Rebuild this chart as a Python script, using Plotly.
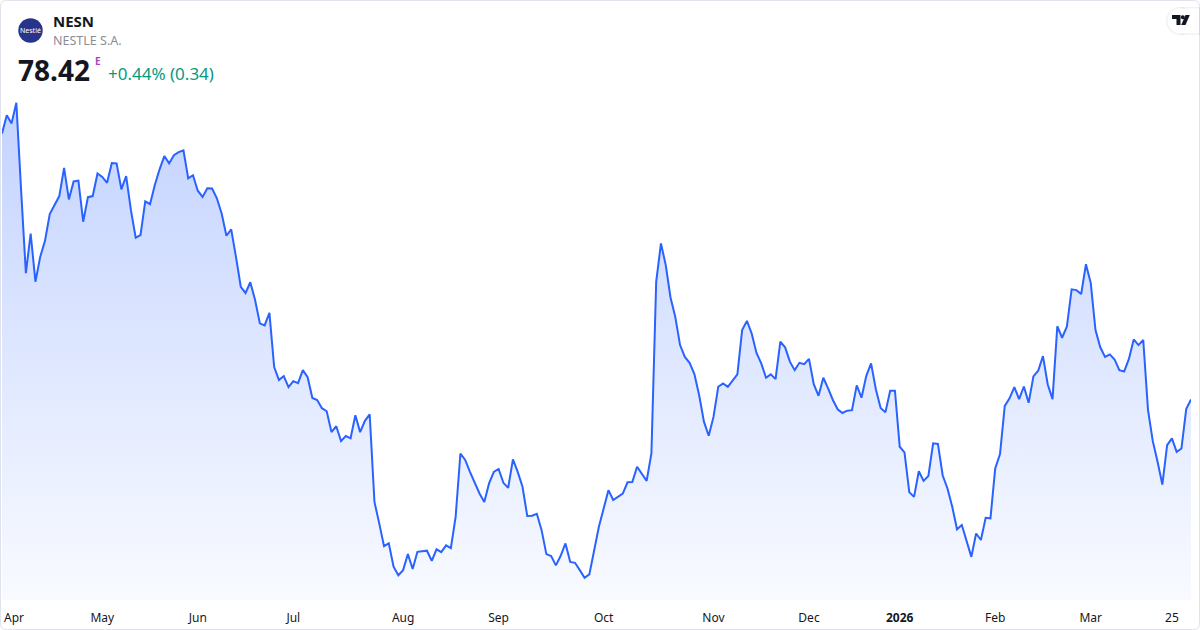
import plotly.graph_objects as go
import pandas as pd

# ---------------- data ----------------
six_holidays = ["2025-04-18", "2025-04-21", "2025-05-01", "2025-05-29", "2025-06-09",
                "2025-08-01", "2025-12-24", "2025-12-25", "2025-12-26", "2025-12-31",
                "2026-01-01", "2026-01-02"]
trade_dates = pd.bdate_range("2025-03-31", "2026-03-31", freq="C", holidays=six_holidays)

close = [
    87.86, 88.51, 88.22, 88.95, 85.85, 82.90, 84.31, 82.60, 83.48, 84.05,
    85.00, 85.32, 85.64, 86.64, 85.52, 86.16, 86.19, 84.73, 85.60, 85.64,
    86.44, 86.32, 86.11, 86.81, 86.80, 85.88, 86.35, 85.14, 84.16, 84.25,
    85.45, 85.35, 86.03, 86.59, 87.06, 86.80, 87.09, 87.20, 87.26, 86.27,
    86.38, 85.83, 85.61, 85.92, 85.91, 85.56, 85.02, 84.23, 84.46, 83.48,
    82.42, 82.20, 82.58, 81.95, 81.12, 81.05, 81.49, 79.57, 79.11, 79.25,
    78.86, 79.07, 79.00, 79.46, 79.21, 78.47, 78.40, 78.11, 78.00, 77.26,
    77.47, 76.94, 77.12, 77.04, 77.86, 77.26, 77.66, 77.89, 74.78, 74.02,
    73.21, 73.31, 72.48, 72.18, 72.36, 72.93, 72.40, 73.01, 73.03, 73.05,
    72.69, 73.10, 73.00, 73.24, 73.14, 74.25, 76.50, 76.27, 75.85, 75.44,
    75.08, 74.78, 75.44, 75.85, 75.95, 75.46, 75.28, 76.29, 75.85, 75.32,
    74.28, 74.29, 74.36, 73.78, 72.93, 72.86, 72.53, 72.87, 73.31, 72.65,
    72.62, 72.36, 72.09, 72.21, 73.07, 73.90, 74.55, 75.20, 74.85, 74.96,
    75.08, 75.48, 75.49, 76.03, 75.79, 75.53, 76.50, 82.60, 83.96, 83.19,
    82.04, 81.35, 80.35, 79.93, 79.72, 79.32, 78.57, 77.63, 77.13, 77.80,
    78.87, 78.99, 78.87, 79.08, 79.31, 80.88, 81.21, 80.76, 80.07, 79.70,
    79.19, 79.31, 79.14, 80.47, 80.27, 79.76, 79.46, 79.72, 79.67, 79.86,
    78.96, 78.55, 79.19, 78.81, 78.40, 78.07, 77.94, 78.02, 78.04, 78.92,
    78.48, 79.26, 79.70, 78.78, 78.12, 77.96, 78.73, 78.73, 76.74, 76.54,
    75.13, 74.96, 75.87, 75.53, 75.70, 76.86, 76.84, 75.72, 75.26, 74.61,
    73.81, 73.96, 73.37, 72.83, 73.66, 73.43, 74.22, 74.20, 75.97, 76.48,
    78.19, 78.46, 78.86, 78.43, 78.88, 78.30, 79.24, 79.44, 79.96, 78.95,
    78.43, 81.02, 80.61, 81.00, 82.33, 82.30, 82.16, 83.22, 82.56, 80.88,
    80.27, 79.93, 80.02, 79.84, 79.46, 79.41, 79.86, 80.55, 80.35, 80.53,
    78.04, 76.94, 76.21, 75.40, 76.80, 77.04, 76.56, 76.68, 78.08, 78.42,
]

tick_dates = ["2025-05-02", "2025-06-02", "2025-07-01", "2025-08-04", "2025-09-01",
              "2025-10-01", "2025-11-03", "2025-12-01", "2026-01-05", "2026-02-02",
              "2026-03-02", "2026-03-25"]
tick_labels = ["May", "Jun", "Jul", "Aug", "Sep", "Oct", "Nov", "Dec", "<b>2026</b>",
               "Feb", "Mar", "25"]
first_label = "Apr"

symbol = "NESN"
company = "NESTLE S.A."
last_price = "78.42"
change_text = "+0.44% (0.34)"

# ---------------- layout helpers ----------------
W, H = 1200, 630
ML, MR, MT, MB = 2, 9, 0, 30
PW, PH = W - ML - MR, H - MT - MB
FONT = "Noto Sans"


def fx(px):
    return (px - ML) / PW


def fy(py):
    return 1 - (py - MT) / PH


def path_px(points, close_path=True):
    s = "M " + " L ".join(f"{fx(x):.5f},{fy(y):.5f}" for x, y in points)
    return s + (" Z" if close_path else "")


n = len(close)
x = list(range(n))
pos = {d.strftime("%Y-%m-%d"): i for i, d in enumerate(trade_dates[:n])}
tickvals = [pos[d] for d in tick_dates]
y_range = [71.30, 92.60]

fig = go.Figure()
fig.add_trace(go.Scatter(
    x=x, y=close, mode="lines",
    line=dict(color="#2962FF", width=2),
    fill="tozeroy",
    fillgradient=dict(type="vertical",
                      colorscale=[[0, "rgba(41,98,255,0.03)"], [1, "rgba(41,98,255,0.33)"]],
                      start=y_range[0], stop=y_range[1]),
    hoverinfo="skip", showlegend=False,
))

# rounded card border
r = 6
x0, y0, x1, y1 = 0.5, 0.5, 1199.5, 629.5
card = (f"M {fx(x0 + r)},{fy(y0)} L {fx(x1 - r)},{fy(y0)} Q {fx(x1)},{fy(y0)} {fx(x1)},{fy(y0 + r)} "
        f"L {fx(x1)},{fy(y1 - r)} Q {fx(x1)},{fy(y1)} {fx(x1 - r)},{fy(y1)} "
        f"L {fx(x0 + r)},{fy(y1)} Q {fx(x0)},{fy(y1)} {fx(x0)},{fy(y1 - r)} "
        f"L {fx(x0)},{fy(y0 + r)} Q {fx(x0)},{fy(y0)} {fx(x0 + r)},{fy(y0)} Z")

shapes = [
    dict(type="path", xref="paper", yref="paper", path=card,
         line=dict(color="#e0e3eb", width=1), fillcolor="rgba(0,0,0,0)", layer="above"),
    # logo circle
    dict(type="circle", xref="paper", yref="paper",
         x0=fx(18.3), x1=fx(42.7), y0=fy(42.7), y1=fy(18.3),
         fillcolor="#27348b", line=dict(width=0)),
    # TradingView badge shadow + pill
    dict(type="circle", xref="paper", yref="paper",
         x0=fx(1166), x1=fx(1194), y0=fy(35), y1=fy(7),
         fillcolor="rgba(0,0,0,0.05)", line=dict(width=0)),
    dict(type="rect", xref="paper", yref="paper",
         x0=fx(1180), x1=fx(1200), y0=fy(35), y1=fy(7),
         fillcolor="rgba(0,0,0,0.05)", line=dict(width=0)),
    dict(type="circle", xref="paper", yref="paper",
         x0=fx(1167.5), x1=fx(1192.5), y0=fy(33.5), y1=fy(8.5),
         fillcolor="white", line=dict(width=0)),
    dict(type="rect", xref="paper", yref="paper",
         x0=fx(1180), x1=fx(1199), y0=fy(33.5), y1=fy(8.5),
         fillcolor="white", line=dict(width=0)),
    # TV glyph
    dict(type="path", xref="paper", yref="paper",
         path=path_px([(1172, 15), (1180.5, 15), (1180.5, 25), (1176.5, 25), (1176.5, 19), (1172, 19)]),
         fillcolor="#131722", line=dict(width=0)),
    dict(type="circle", xref="paper", yref="paper",
         x0=fx(1180.8), x1=fx(1184.8), y0=fy(19.3), y1=fy(15.3),
         fillcolor="#131722", line=dict(width=0)),
    dict(type="path", xref="paper", yref="paper",
         path=path_px([(1185.5, 15), (1189.8, 15), (1185.5, 25), (1181.2, 25)]),
         fillcolor="#131722", line=dict(width=0)),
]

annotations = [
    dict(text="Nestlé", x=fx(30.5), y=fy(30.5), xref="paper", yref="paper",
         showarrow=False, font=dict(family=FONT, size=7, color="white"),
         xanchor="center", yanchor="middle"),
    dict(text=f"<b>{symbol}</b>", x=fx(51), y=fy(20.5), xref="paper", yref="paper",
         showarrow=False, font=dict(family=FONT, size=15, color="#131722"),
         xanchor="left", yanchor="middle"),
    dict(text=company, x=fx(51), y=fy(40.5), xref="paper", yref="paper",
         showarrow=False, font=dict(family=FONT, size=12.5, color="#8a8d96"),
         xanchor="left", yanchor="middle"),
    dict(text=f"<b>{last_price}</b>", x=fx(16), y=fy(70), xref="paper", yref="paper",
         showarrow=False, font=dict(family=FONT, size=28, color="#131722"),
         xanchor="left", yanchor="middle"),
    dict(text="<b>E</b>", x=fx(93), y=fy(61), xref="paper", yref="paper",
         showarrow=False, font=dict(family=FONT, size=10, color="#ab47bc"),
         xanchor="left", yanchor="middle"),
    dict(text=change_text, x=fx(106), y=fy(74), xref="paper", yref="paper",
         showarrow=False, font=dict(family=FONT, size=17, color="#089981"),
         xanchor="left", yanchor="middle"),
    dict(text=first_label, x=0, y=fy(617), xref="x", yref="paper",
         showarrow=False, font=dict(family=FONT, size=12, color="#131722"),
         xanchor="left", yanchor="middle"),
]

fig.update_layout(
    width=W, height=H,
    margin=dict(l=ML, r=MR, t=MT, b=MB),
    paper_bgcolor="white", plot_bgcolor="white",
    xaxis=dict(range=[0, n - 1], showgrid=False, zeroline=False, showline=False,
               ticks="", tickmode="array", tickvals=tickvals, ticktext=tick_labels,
               ticklabelstandoff=9,
               tickfont=dict(family=FONT, size=12, color="#131722"), fixedrange=True),
    yaxis=dict(range=y_range, visible=False, showgrid=False, zeroline=False, fixedrange=True),
    shapes=shapes, annotations=annotations, showlegend=False,
)

fig.write_html("out.html", config={"displayModeBar": False},
               post_script="document.body.style.margin='0';document.body.style.overflow='hidden';")
